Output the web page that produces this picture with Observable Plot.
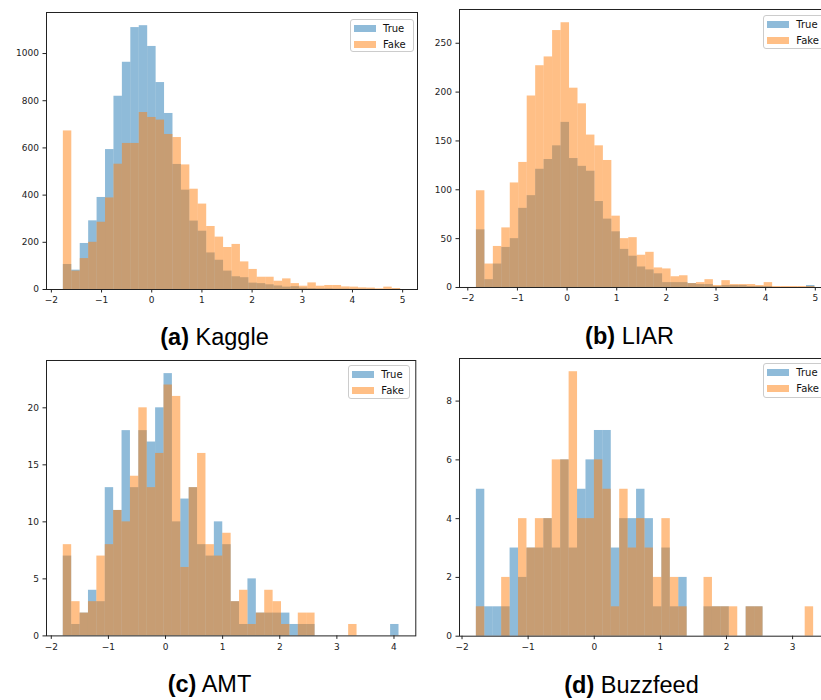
<!DOCTYPE html>
<html><head><meta charset="utf-8">
<script src="https://cdn.jsdelivr.net/npm/d3@7"></script>
<script src="https://cdn.jsdelivr.net/npm/@observablehq/plot@0.6"></script>
<style>
body{margin:0;background:#fff;}
#root{position:relative;width:821px;height:700px;overflow:hidden;background:#fff;}
.panel{position:absolute;}
.panel svg{max-width:none !important;}
.legend{position:absolute;background:rgba(255,255,255,0.8);border:1px solid #cccccc;border-radius:3px;box-sizing:border-box;}
.lrow{position:absolute;height:14px;display:flex;align-items:center;font:10px "DejaVu Sans";color:#111;white-space:nowrap;}
.sw{display:inline-block;width:22px;height:7px;margin-right:7px;}
.caption{position:absolute;font-family:"Liberation Sans",Arial,sans-serif;font-size:23.5px;color:#000;white-space:nowrap;transform:translateX(-50%);line-height:24px;}
.caption b{font-weight:bold;}
</style></head><body><div id="root"></div>
<script>
// ---- data ----
const seriesNames = ["True", "Fake"];
const captionTags = ["(a)", "(b)", "(c)", "(d)"];
const datasetNames = ["Kaggle", "LIAR", "AMT", "Buzzfeed"];

const kaggleRange = [-1.761, 4.96];
const kaggleTrue = [106, 82, 195, 291, 390, 593, 819, 963, 1110, 1118, 1030, 877, 746, 530, 421, 290, 247, 155, 124, 78, 54, 50, 27, 25, 20, 15, 10, 12, 6, 4, 3, 3, 2, 2, 1, 1, 1, 0, 0, 1];
const kaggleFake = [672, 78, 131, 200, 285, 388, 531, 619, 619, 750, 729, 718, 657, 644, 528, 425, 362, 267, 222, 178, 191, 117, 85, 52, 52, 35, 45, 25, 14, 28, 14, 17, 17, 11, 10, 7, 6, 3, 10, 4];
const kaggleXTicks = [-2, -1, 0, 1, 2, 3, 4, 5];
const kaggleYTicks = [0, 200, 400, 600, 800, 1000];

const liarRange = [-1.826, 4.993];
const liarTrue = [59, 8, 24, 41, 50, 81, 94, 121, 131, 145, 169, 132, 124, 119, 88, 70, 57, 39, 32, 21, 18, 14, 5, 5, 5, 4, 3, 3, 1, 2, 2, 2, 1, 1, 1, 0, 0, 0, 0, 2];
const liarFake = [99, 24, 42, 61, 107, 128, 196, 227, 236, 263, 271, 204, 188, 156, 145, 130, 73, 50, 51, 33, 36, 20, 19, 11, 12, 4, 5, 8, 2, 7, 3, 3, 3, 2, 5, 1, 1, 1, 1, 1];
const liarXTicks = [-2, -1, 0, 1, 2, 3, 4, 5];
const liarYTicks = [0, 50, 100, 150, 200, 250];

const amtRange = [-1.79, 4.088];
const amtTrue = [7, 1, 2, 4, 3, 13, 11, 18, 13, 18, 17, 20, 23, 10, 12, 13, 8, 7, 10, 8, 3, 1, 5, 2, 2, 2, 2, 1, 1, 1, 0, 0, 0, 0, 0, 0, 0, 0, 0, 1];
const amtFake = [8, 3, 2, 3, 7, 8, 11, 10, 14, 20, 13, 16, 22, 21, 6, 13, 16, 8, 7, 9, 3, 4, 1, 2, 4, 3, 1, 0, 2, 2, 0, 0, 0, 0, 1, 0, 0, 0, 0, 0];
const amtXTicks = [-2, -1, 0, 1, 2, 3, 4];
const amtYTicks = [0, 5, 10, 15, 20];

const buzzRange = [-1.783, 3.318];
const buzzTrue = [5, 1, 1, 1, 3, 2, 3, 3, 4, 3, 6, 3, 5, 6, 7, 7, 3, 4, 4, 5, 4, 1, 3, 1, 2, 0, 0, 1, 1, 1, 0, 0, 1, 1, 0, 0, 0, 0, 0, 0];
const buzzFake = [1, 0, 0, 2, 0, 4, 3, 4, 4, 6, 6, 9, 4, 4, 6, 5, 1, 5, 3, 4, 3, 2, 4, 2, 1, 0, 0, 2, 1, 1, 1, 0, 1, 1, 0, 0, 0, 0, 0, 1];
const buzzXTicks = [-2, -1, 0, 1, 2, 3];
const buzzYTicks = [0, 2, 4, 6, 8];

// ---- style / layout ----
const colors = ["#1f77b4", "#ff7f0e"];
const panels = [
  {range: kaggleRange, t: kaggleTrue, f: kaggleFake, xt: kaggleXTicks, yt: kaggleYTicks,
   frame: {left: 45.7, top: 12.3, w: 371, h: 277}, legend: {left: 350, top: 18.5, w: 64, h: 33.5}, cap: {x: 214.5, y: 325}},
  {range: liarRange, t: liarTrue, f: liarFake, xt: liarXTicks, yt: liarYTicks,
   frame: {left: 459.2, top: 9.3, w: 372.4, h: 278}, legend: {left: 763.3, top: 15, w: 64, h: 34.3}, cap: {x: 629.5, y: 324}},
  {range: amtRange, t: amtTrue, f: amtFake, xt: amtXTicks, yt: amtYTicks,
   frame: {left: 45.8, top: 360.3, w: 369.3, h: 275.4}, legend: {left: 348.3, top: 365, w: 61.7, h: 34.3}, cap: {x: 209.5, y: 672}},
  {range: buzzRange, t: buzzTrue, f: buzzFake, xt: buzzXTicks, yt: buzzYTicks,
   frame: {left: 459.2, top: 358.3, w: 371, h: 277.7}, legend: {left: 763.3, top: 363.3, w: 64, h: 35}, cap: {x: 631.5, y: 673}}
];
const ML = 48, MR = 12, MT = 8, MB = 24;
const fmt = d => d < 0 ? "\u2212" + (-d) : String(d);

function bins(range, counts, series) {
  const w = (range[1] - range[0]) / counts.length;
  return counts.map((c, i) => ({x1: range[0] + i * w, x2: range[0] + (i + 1) * w, y: c, series}));
}

const root = document.getElementById("root");
panels.forEach((p, k) => {
  const span = p.range[1] - p.range[0];
  const xdom = [p.range[0] - 0.05 * span, p.range[1] + 0.05 * span];
  const ymax = Math.max(d3.max(p.t), d3.max(p.f)) * 1.05;
  const trueRows = bins(p.range, p.t, seriesNames[0]);
  const fakeRows = bins(p.range, p.f, seriesNames[1]);
  const W = ML + p.frame.w + MR, H = MT + p.frame.h + MB;
  const chart = Plot.plot({
    width: W,
    height: H,
    marginLeft: ML, marginRight: MR, marginTop: MT, marginBottom: MB,
    style: {fontFamily: "DejaVu Sans", fontSize: "9px", color: "#222", background: "transparent", overflow: "visible", maxWidth: "none"},
    x: {domain: xdom},
    y: {domain: [0, ymax]},
    marks: [
      Plot.rectY(trueRows, {x1: "x1", x2: "x2", y: "y", fill: colors[0], fillOpacity: 0.5, inset: 0}),
      Plot.rectY(fakeRows, {x1: "x1", x2: "x2", y: "y", fill: colors[1], fillOpacity: 0.5, inset: 0}),
      Plot.frame({stroke: "#222", strokeWidth: 1}),
      Plot.axisX({ticks: p.xt, tickFormat: fmt, tickSize: 3.5, tickPadding: 4, label: null, stroke: "#222"}),
      Plot.axisY({ticks: p.yt, tickFormat: fmt, tickSize: 3.5, tickPadding: 4, label: null, stroke: "#222"})
    ]
  });
  const div = document.createElement("div");
  div.className = "panel";
  div.style.left = (p.frame.left - ML) + "px";
  div.style.top = (p.frame.top - MT) + "px";
  div.style.width = W + "px";
  div.style.height = H + "px";
  div.appendChild(chart);
  root.appendChild(div);

  // legend
  const lg = document.createElement("div");
  lg.className = "legend";
  lg.style.left = p.legend.left + "px";
  lg.style.top = p.legend.top + "px";
  lg.style.width = p.legend.w + "px";
  lg.style.height = p.legend.h + "px";
  seriesNames.forEach((name, i) => {
    const row = document.createElement("div");
    row.className = "lrow";
    row.style.left = "3px";
    row.style.top = (i === 0 ? 0 : 16) + 1.5 + "px";
    const sw = document.createElement("span");
    sw.className = "sw";
    sw.style.background = colors[i];
    sw.style.opacity = 0.5;
    row.appendChild(sw);
    row.appendChild(document.createTextNode(name));
    lg.appendChild(row);
  });
  root.appendChild(lg);

  // caption
  const cap = document.createElement("div");
  cap.className = "caption";
  cap.style.left = p.cap.x + "px";
  cap.style.top = p.cap.y + "px";
  const b = document.createElement("b");
  b.textContent = captionTags[k];
  cap.appendChild(b);
  cap.appendChild(document.createTextNode(" " + datasetNames[k]));
  root.appendChild(cap);
});
</script>
</body></html>
